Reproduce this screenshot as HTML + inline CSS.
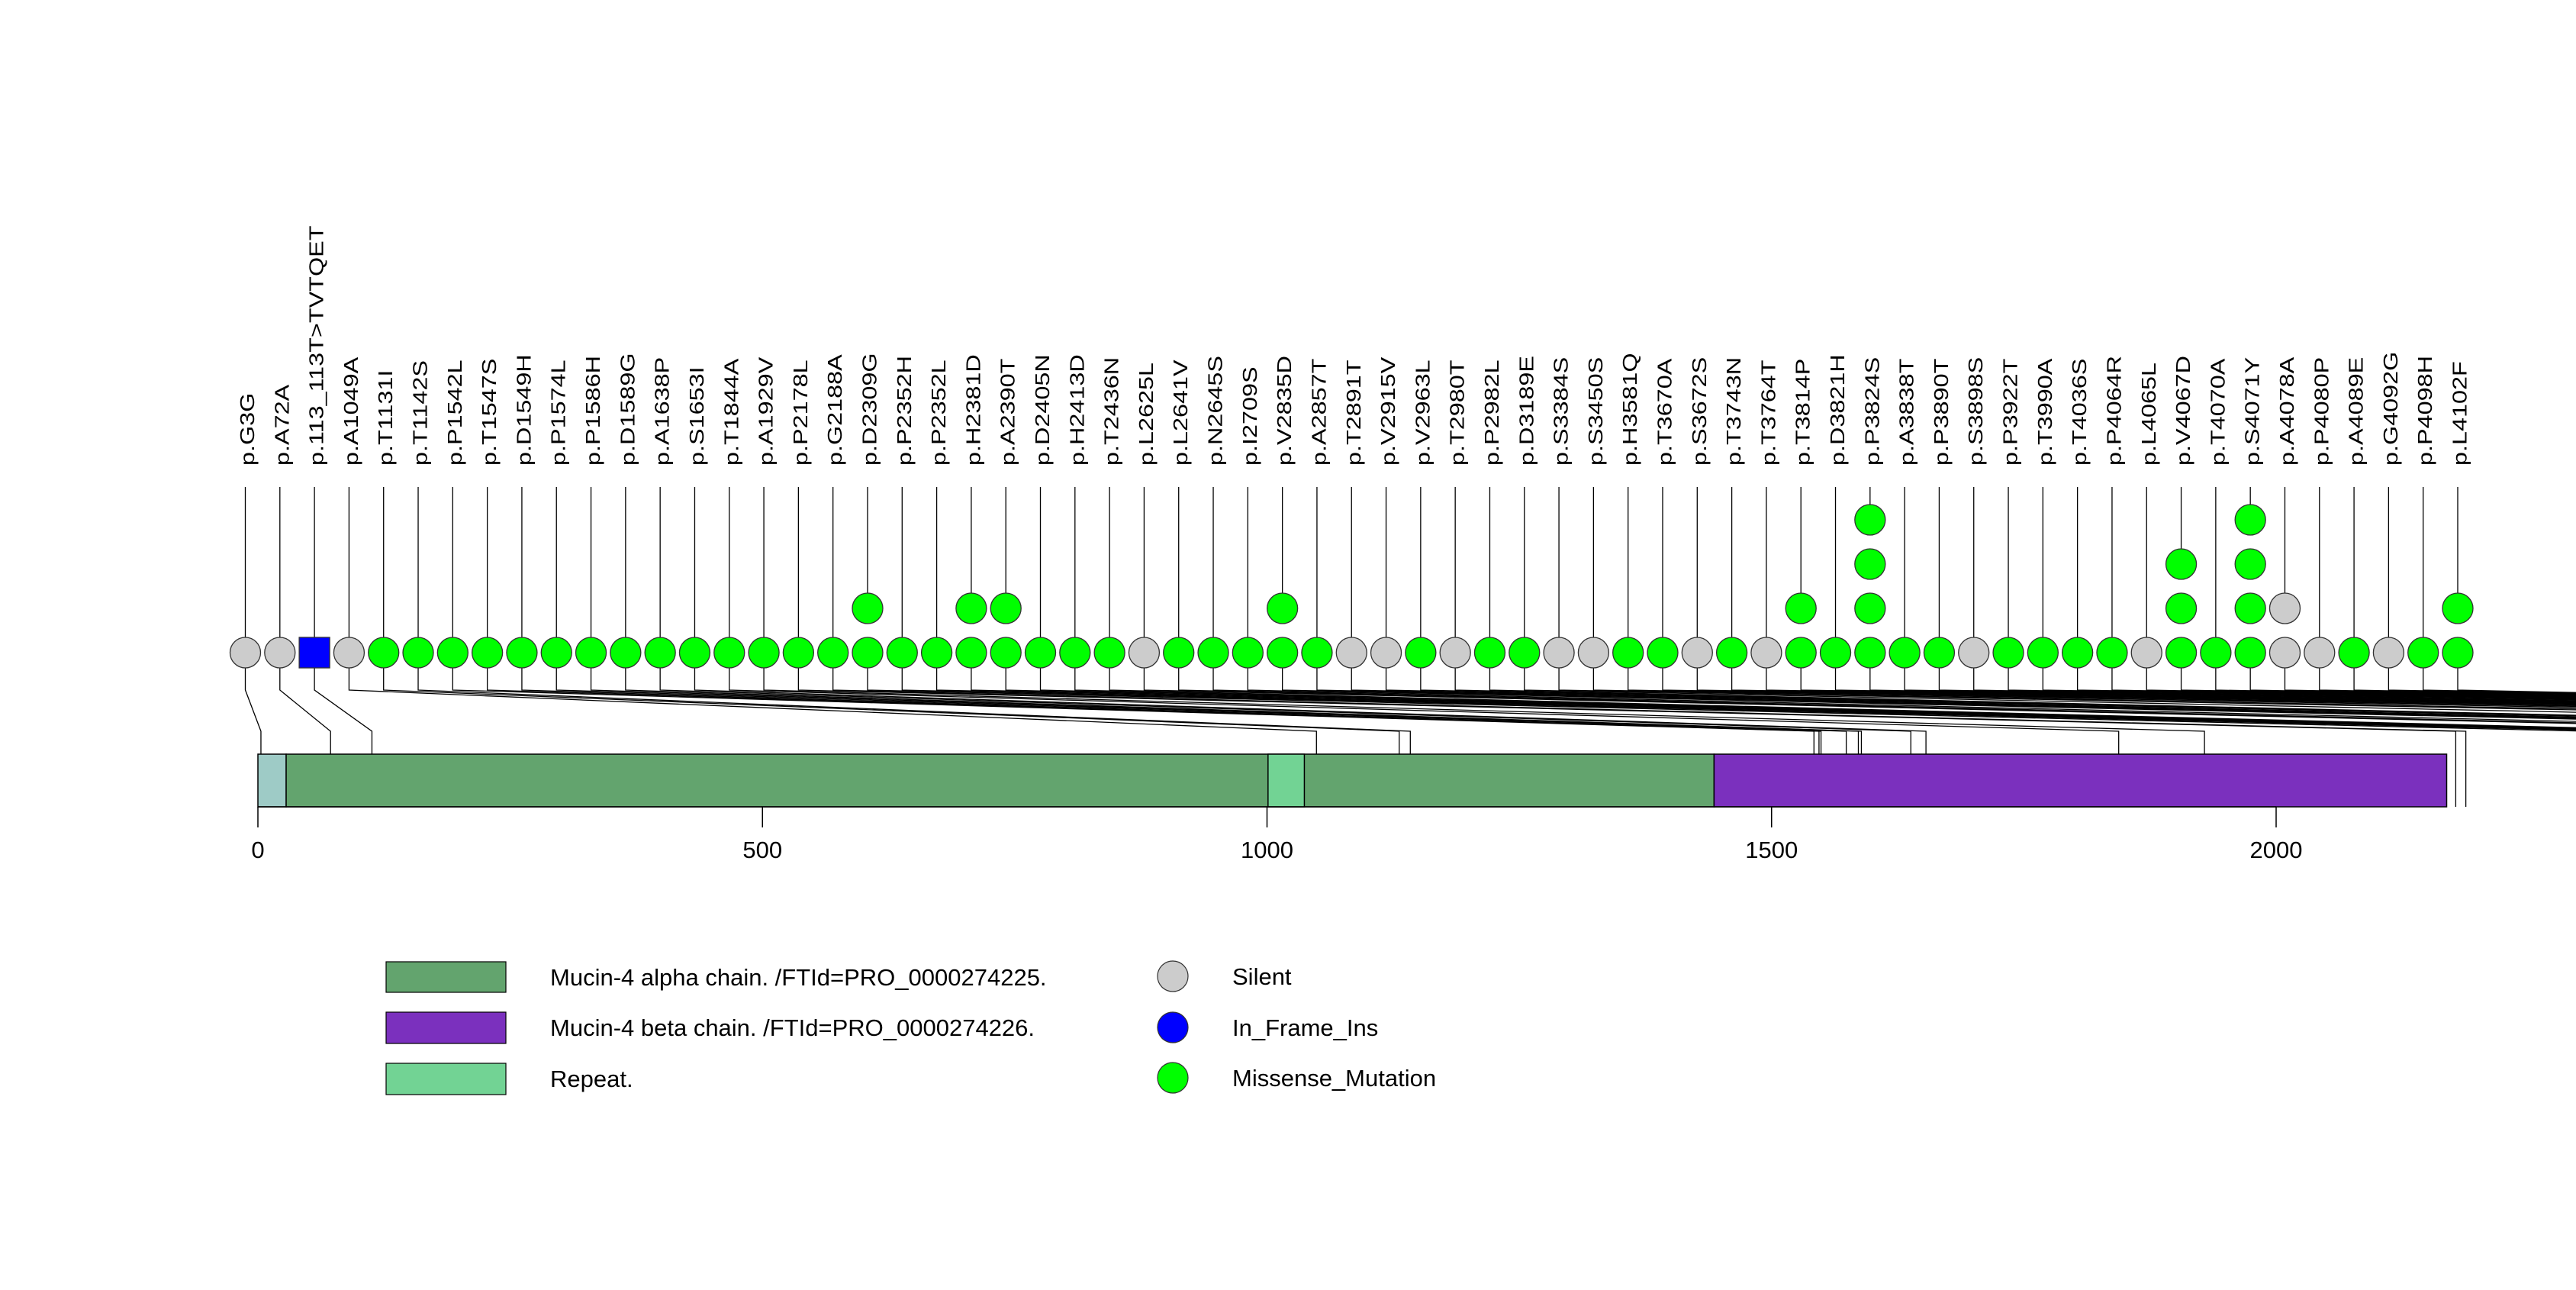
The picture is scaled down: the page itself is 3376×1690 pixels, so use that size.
<!DOCTYPE html>
<html><head><meta charset="utf-8"><style>
html,body{margin:0;padding:0;background:#fff;}
svg{display:block;font-family:"Liberation Sans",Arial,sans-serif;}
</style></head><body>
<svg id="chart" width="3376" height="1690" viewBox="0 0 3376 1690" xmlns="http://www.w3.org/2000/svg">
<g id="connectors"></g>
<g id="protein"></g>
<g id="axis"></g>
<g id="muts"></g>
<g id="legend">
  <rect x="506" y="1260" width="157" height="40" fill="#63A46E" stroke="#000" stroke-width="1.2"/>
  <text x="721" y="1291" font-size="31">Mucin-4 alpha chain. /FTId=PRO_0000274225.</text>
  <rect x="506" y="1326" width="157" height="41" fill="#7B30BE" stroke="#000" stroke-width="1.2"/>
  <text x="721" y="1357" font-size="31">Mucin-4 beta chain. /FTId=PRO_0000274226.</text>
  <rect x="506" y="1393" width="157" height="41" fill="#72D394" stroke="#000" stroke-width="1.2"/>
  <text x="721" y="1424" font-size="31">Repeat.</text>
  <circle cx="1537" cy="1279" r="20" fill="#CCCCCC" stroke="#333" stroke-width="1.2"/>
  <text x="1615" y="1290" font-size="31">Silent</text>
  <circle cx="1537" cy="1346" r="20" fill="#0000FF" stroke="#333" stroke-width="1.2"/>
  <text x="1615" y="1357" font-size="31">In_Frame_Ins</text>
  <circle cx="1537" cy="1412" r="20" fill="#00FF00" stroke="#333" stroke-width="1.2"/>
  <text x="1615" y="1423" font-size="31">Missense_Mutation</text>
</g>
</svg>
<script>
const labels = ["p.G3G","p.A72A","p.113_113T>TVTQET","p.A1049A","p.T1131I","p.T1142S","p.P1542L","p.T1547S","p.D1549H","p.P1574L","p.P1586H","p.D1589G","p.A1638P","p.S1653I","p.T1844A","p.A1929V","p.P2178L","p.G2188A","p.D2309G","p.P2352H","p.P2352L","p.H2381D","p.A2390T","p.D2405N","p.H2413D","p.T2436N","p.L2625L","p.L2641V","p.N2645S","p.I2709S","p.V2835D","p.A2857T","p.T2891T","p.V2915V","p.V2963L","p.T2980T","p.P2982L","p.D3189E","p.S3384S","p.S3450S","p.H3581Q","p.T3670A","p.S3672S","p.T3743N","p.T3764T","p.T3814P","p.D3821H","p.P3824S","p.A3838T","p.P3890T","p.S3898S","p.P3922T","p.T3990A","p.T4036S","p.P4064R","p.L4065L","p.V4067D","p.T4070A","p.S4071Y","p.A4078A","p.P4080P","p.A4089E","p.G4092G","p.P4098H","p.L4102F"];
const positions = [3,72,113,1049,1131,1142,1542,1547,1549,1574,1586,1589,1638,1653,1844,1929,2178,2188,2309,2352,2352,2381,2390,2405,2413,2436,2625,2641,2645,2709,2835,2857,2891,2915,2963,2980,2982,3189,3384,3450,3581,3670,3672,3743,3764,3814,3821,3824,3838,3890,3898,3922,3990,4036,4064,4065,4067,4070,4071,4078,4080,4089,4092,4098,4102];
const types = ["S","S","I","S","M","M","M","M","M","M","M","M","M","M","M","M","M","M","M","M","M","M","M","M","M","M","S","M","M","M","M","M","S","S","M","S","M","M","S","S","M","M","S","M","S","M","M","M","M","M","S","M","M","M","M","S","M","M","M","S","S","M","S","M","M"];
const counts = [1,1,1,1,1,1,1,1,1,1,1,1,1,1,1,1,1,1,2,1,1,2,2,1,1,1,1,1,1,1,2,1,1,1,1,1,1,1,1,1,1,1,1,1,1,2,1,4,1,1,1,1,1,1,1,1,3,1,4,2,1,1,1,1,2];
const domainStarts = [0,28,1443,1001];
const domainEnds = [28,1443,2169,1037];
const domainNames = ["signal-peptide","alpha-chain","beta-chain","repeat"];
const domainColors = ["#9ECBC6","#63A46E","#7B30BE","#72D394"];
const ticks = [0,500,1000,1500,2000];

const NS="http://www.w3.org/2000/svg";
const X0=338, PX=1.3225;
function xAA(a){return X0+a*PX;}
const FIRST=321.5, STEP=(3221-321.5)/64;
function xSlot(i){return FIRST+i*STEP;}
const ROW0=855, ROWSTEP=58, R=20;
function yRow(k){return ROW0-k*ROWSTEP;}
function mk(tag,attrs,parent){const e=document.createElementNS(NS,tag);for(const k in attrs)e.setAttribute(k,attrs[k]);parent.appendChild(e);return e;}
const colorOf={S:"#CCCCCC",I:"#0000FF",M:"#00FF00"};

const gc=document.getElementById('connectors');
const gp=document.getElementById('protein');
const ga=document.getElementById('axis');
const gm=document.getElementById('muts');

for(let d=0;d<domainStarts.length;d++){
  const r=mk('rect',{x:xAA(domainStarts[d]),y:988,width:xAA(domainEnds[d])-xAA(domainStarts[d]),height:69,fill:domainColors[d],stroke:'#000','stroke-width':1.5},gp);
  
  
}
const al=mk('line',{x1:xAA(ticks[0]),x2:xAA(ticks[ticks.length-1]),y1:1057,y2:1057,stroke:'#000','stroke-width':1.5},ga);


ticks.forEach(t=>{
  const l=mk('line',{x1:xAA(t),x2:xAA(t),y1:1057,y2:1084,stroke:'#000','stroke-width':1.5},ga);
  
  
  const tx=mk('text',{x:xAA(t),y:1124,'font-size':31,'text-anchor':'middle'},ga);
  tx.textContent=String(t);
  
  
});
labels.forEach((lab,i)=>{
  const sx=xSlot(i), px=xAA(positions[i]);
  const topY=yRow(counts[i]-1);
  const conn=mk('polyline',{points:`${sx},${ROW0} ${sx},904 ${px},958 ${px},1057`,fill:'none',stroke:'#000','stroke-width':1.3},gc);
  
  
  const stem=mk('line',{x1:sx,x2:sx,y1:638,y2:topY,stroke:'#000','stroke-width':1.3},gm);
  
  
  const t=mk('text',{transform:`translate(${sx+11.5},610) rotate(-90) scale(1.27,1)`,'font-size':25.5,'text-anchor':'start'},gm);
  t.textContent=lab;
  
  
  for(let k=0;k<counts[i];k++){
    let m;
    if(types[i]==='I'){
      m=mk('rect',{x:sx-20,y:yRow(k)-20,width:40,height:40,fill:colorOf.I,stroke:'#333','stroke-width':1.3},gm);
    } else {
      m=mk('circle',{cx:sx,cy:yRow(k),r:R,fill:colorOf[types[i]],stroke:'#333','stroke-width':1.3},gm);
    }
    
    
  }
});
</script>
</body></html>
